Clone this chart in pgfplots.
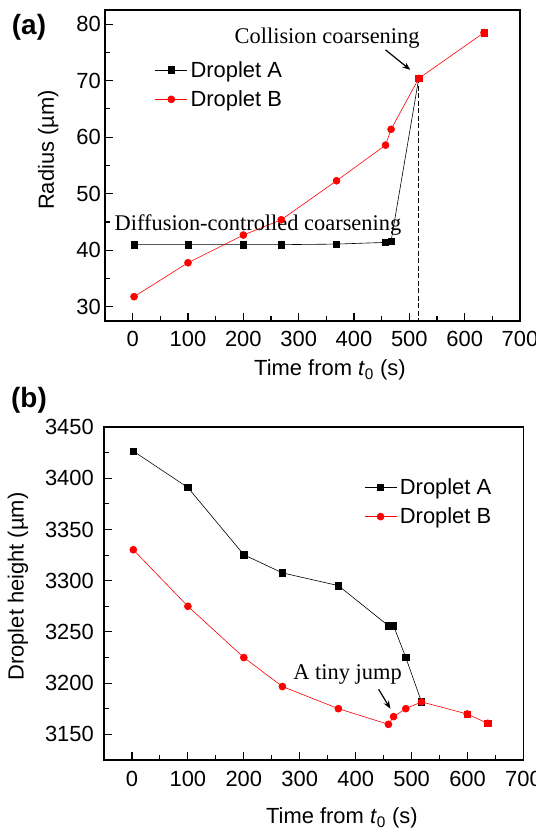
\documentclass[border=0pt]{standalone}
\usepackage{fontspec}
\setmainfont{Liberation Sans}
\newfontfamily\serif{Liberation Serif}
\usepackage{pgfplots}
\pgfplotsset{compat=1.18}
\usetikzlibrary{arrows.meta}

\pgfplotsset{
  drop/.style={
    scale only axis, clip=false,
    xmin=-50, xmax=700,
    xtick={0,100,...,700}, minor x tick num=1,
    minor y tick num=1,
    xtick pos=bottom, ytick pos=left,
    tick align=inside,
    major tick length=8bp, minor tick length=5bp,
    axis line style={line width=1.2bp},
    tick style={line width=1.1bp, black},
    /pgf/number format/assume math mode=true,
    /pgf/number format/1000 sep={},
    tick label style={font=\fontsize{22}{26}\selectfont},
    label style={font=\fontsize{22}{26}\selectfont},
    legend style={draw=none, fill=none, font=\fontsize{22}{26}\selectfont,
      inner sep=0pt, nodes={inner ysep=6bp, inner xsep=3bp}},
    legend cell align=left,
    legend image code/.code={\draw[mark repeat=2, mark phase=2]
      plot coordinates {(0bp,0bp) (16bp,0bp) (32bp,0bp)};},
  },
  lineA/.style={black, line width=0.6bp, mark=square*, mark size=3.2bp},
  lineB/.style={red, line width=0.6bp, mark=*, mark size=3.5bp},
  merged/.style={red, only marks, mark=square*, mark size=3.2bp, forget plot},
}
\tikzset{note/.style={font=\serif\fontsize{22.5}{26}\selectfont}}

\begin{document}
\begin{tikzpicture}
\useasboundingbox (0,0) rectangle (536bp,834bp);

\node[font=\bfseries\fontsize{28}{32}\selectfont] at (29bp,807bp) {(a)};
\node[font=\bfseries\fontsize{28}{32}\selectfont] at (29bp,434bp) {(b)};

% (a) radius
\begin{axis}[drop, at={(105bp,513bp)}, anchor=south west,
  width=415bp, height=311bp,
  ymin=27.5, ymax=82.5, ytick={30,40,...,80},
  xlabel={Time from \textit{t}\textsubscript{0} (s)},
  ylabel={Radius (µm)},
  xlabel style={at={(axis description cs:0.542,-0.158)}, anchor=center},
  ylabel style={at={(axis description cs:-0.137,0.55)}, anchor=center},
  yticklabel style={inner xsep=4bp},
  xticklabel style={inner ysep=10bp},
  legend style={at={(axis description cs:0.12,0.76)}, anchor=west}]
\addplot[lineA] coordinates {
  (2.5,41.0) (100,41.0) (200,41.0) (268.5,41.0) (368.5,41.1)
  (457,41.4) (467,41.6) (517,70.4)
};
\addlegendentry{Droplet A}
\addplot[black, line width=1.3bp, dash pattern=on 5bp off 2.5bp, forget plot]
  coordinates {(517,70.4) (517,27.5)};
\addplot[lineB] coordinates {
  (2.5,31.8) (100,37.8) (200,42.7) (268.5,45.4) (368.5,52.3)
  (457,58.6) (467,61.4) (517,70.4) (635,78.5)
};
\addlegendentry{Droplet B}
\addplot[merged] coordinates {(517,70.4) (635,78.5)};
\node[note] at (axis cs:351.4,77.6) {Collision coarsening};
\node[note] at (axis cs:226.5,44.4) {Diffusion-controlled coarsening};
\draw[-{Stealth[length=8bp,width=6bp]}, line width=1.2bp]
  (axis cs:457,75.45) -- (axis cs:501.8,71.9);
\end{axis}

% (b) height
\begin{axis}[drop, at={(104bp,74bp)}, anchor=south west,
  width=419.5bp, height=333bp,
  ymin=3125, ymax=3450, ytick={3150,3200,...,3450},
  xlabel={Time from \textit{t}\textsubscript{0} (s)},
  ylabel={Droplet height (µm)},
  xlabel style={at={(axis description cs:0.567,-0.174)}, anchor=center},
  ylabel style={at={(axis description cs:-0.205,0.521)}, anchor=center},
  yticklabel style={inner xsep=10bp},
  xticklabel style={inner ysep=11bp},
  legend style={at={(axis description cs:0.62,0.775)}, anchor=west}]
\addplot[lineA] coordinates {
  (2.4,3426.4) (100,3390.9) (200,3325.3) (269,3307.6) (369,3295.2)
  (458.5,3256) (467.7,3256) (489.6,3225) (517.7,3181.7)
};
\addlegendentry{Droplet A}
\addplot[lineB] coordinates {
  (2.4,3330.2) (100,3275) (200,3225) (269,3196.7) (369,3175.1)
  (458.5,3159.8) (467.7,3167.3) (489.6,3175.1) (517.7,3181.7)
  (599.4,3169.9) (636,3160.8)
};
\addlegendentry{Droplet B}
\addplot[merged] coordinates {(599.4,3169.9) (636,3160.8)};
\node[note] at (axis cs:385.6,3208) {A tiny jump};
\draw[-{Stealth[length=8bp,width=6bp]}, line width=1.2bp]
  (axis cs:441,3194) -- (axis cs:462,3175);
\end{axis}
\end{tikzpicture}
\end{document}
